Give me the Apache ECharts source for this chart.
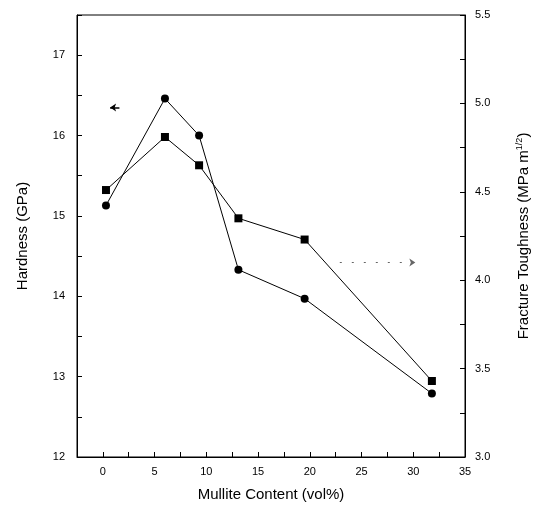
<!DOCTYPE html>
<html>
<head>
<meta charset="utf-8">
<script src="https://cdn.jsdelivr.net/npm/echarts@6/dist/echarts.min.js"></script>
<style>html,body{margin:0;padding:0;background:#fff}#c{width:540px;height:509px}</style>
</head>
<body>
<div id="c"></div>
<script>
var mulliteContent = [0.3, 6.0, 9.3, 13.1, 19.5, 31.8];
var hardness = [15.13, 16.46, 16.0, 14.33, 13.97, 12.79];
var toughness = [4.51, 4.81, 4.65, 4.35, 4.23, 3.43];
var hardnessArrow = [[1.6, 16.35], [0.7, 16.35]];
var toughnessArrow = [[22.9, 4.10], [30.2, 4.10]];

function pairs(xs, ys) { return xs.map(function (x, i) { return [x, ys[i]]; }); }

var font = 'Liberation Sans, Arial, sans-serif';
var chart = echarts.init(document.getElementById('c'));
chart.setOption({
  animation: false,
  backgroundColor: '#fff',
  grid: { left: 77, right: 75, top: 15, bottom: 52, show: true, borderColor: '#000', borderWidth: 1, backgroundColor: 'transparent' },
  xAxis: {
    type: 'value', min: -2.5, max: 35, interval: 2.5,
    name: 'Mullite Content (vol%)', nameLocation: 'middle', nameGap: 30,
    nameTextStyle: { fontFamily: font, fontSize: 15, color: '#000' },
    axisLine: { onZero: false, lineStyle: { color: '#000', width: 1 } },
    axisTick: { inside: true, length: 5, lineStyle: { color: '#000' } },
    axisLabel: { fontFamily: font, fontSize: 11, color: '#000', margin: 9,
      formatter: function (v) { return (v >= 0 && Math.abs(v % 5) < 1e-6) ? String(v) : ''; } },
    splitLine: { show: false }
  },
  yAxis: [{
    type: 'value', min: 12, max: 17.5, interval: 0.5, position: 'left',
    name: 'Hardness (GPa)', nameLocation: 'middle', nameGap: 47, nameRotate: 90,
    nameTextStyle: { fontFamily: font, fontSize: 15, color: '#000' },
    axisLine: { show: true, onZero: false, lineStyle: { color: '#000', width: 1 } },
    axisTick: { show: true, inside: true, length: 5, lineStyle: { color: '#000' } },
    axisLabel: { fontFamily: font, fontSize: 11, color: '#000', margin: 12,
      formatter: function (v) { return Math.abs(v % 1) < 1e-6 ? String(v) : ''; } },
    splitLine: { show: false }
  }, {
    type: 'value', min: 3, max: 5.5, interval: 0.25, position: 'right',
    name: '{a|Fracture Toughness (MPa m}{b|1/2}{a|)}', nameLocation: 'middle', nameGap: 50, nameRotate: 90,
    nameTextStyle: { rich: { a: { fontFamily: font, fontSize: 15, color: '#000' }, b: { fontFamily: font, fontSize: 9, color: '#000', verticalAlign: 'top', padding: [0, 0, 8, 0] } } },
    axisLine: { show: true, onZero: false, lineStyle: { color: '#000', width: 1 } },
    axisTick: { show: true, inside: true, length: 5, lineStyle: { color: '#000' } },
    axisLabel: { fontFamily: font, fontSize: 11, color: '#000', margin: 10,
      formatter: function (v) { return Math.abs((v * 2) % 1) < 1e-6 ? v.toFixed(1) : ''; } },
    splitLine: { show: false }
  }],
  series: [{
    type: 'line', yAxisIndex: 0, data: pairs(mulliteContent, hardness),
    symbol: 'circle', symbolSize: 8, itemStyle: { color: '#000' },
    lineStyle: { color: '#000', width: 1 },
    markLine: { silent: true, symbol: ['none', 'arrow'], symbolSize: [6, 6], label: { show: false },
      lineStyle: { color: '#000', width: 1.5, type: 'solid' },
      data: [[{ coord: hardnessArrow[0] }, { coord: hardnessArrow[1] }]] }
  }, {
    type: 'line', yAxisIndex: 1, data: pairs(mulliteContent, toughness),
    symbol: 'rect', symbolSize: 8, itemStyle: { color: '#000' },
    lineStyle: { color: '#000', width: 1 },
    markLine: { silent: true, symbol: ['none', 'arrow'], symbolSize: [6, 6], label: { show: false },
      lineStyle: { color: '#666', width: 1, type: [2, 10] },
      data: [[{ coord: toughnessArrow[0] }, { coord: toughnessArrow[1] }]] }
  }]
});
</script>
</body>
</html>
